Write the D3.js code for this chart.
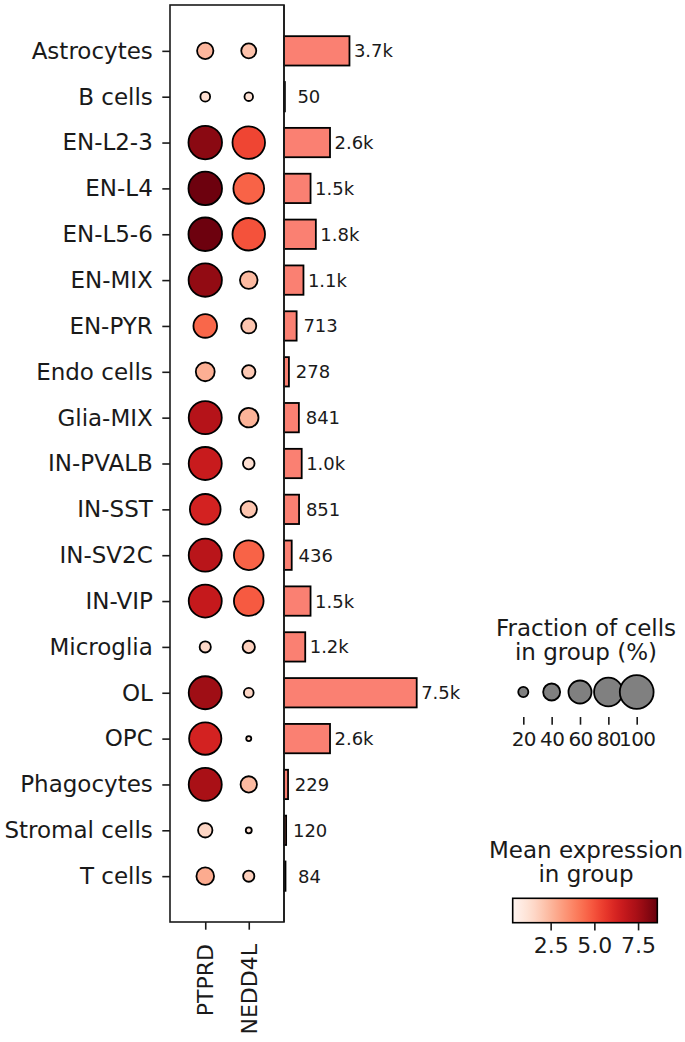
<!DOCTYPE html>
<html>
<head>
<meta charset="utf-8">
<script src="https://cdn.jsdelivr.net/npm/d3@7"></script>
<style>
  body { margin: 0; background: #fff; }
  svg text { font-family: "DejaVu Sans", sans-serif; fill: #1a1a1a; }
</style>
</head>
<body>
<div id="chart"></div>
<script>
// cell types (rows) and genes (columns)
var categories = ["Astrocytes", "B cells", "EN-L2-3", "EN-L4", "EN-L5-6", "EN-MIX", "EN-PYR",
    "Endo cells", "Glia-MIX", "IN-PVALB", "IN-SST", "IN-SV2C", "IN-VIP", "Microglia",
    "OL", "OPC", "Phagocytes", "Stromal cells", "T cells"];
var genes = ["PTPRD", "NEDD4L"];

// fraction of cells expressing (%)
var fracPTPRD  = [38, 19, 99, 99, 99, 98, 62, 46, 97, 97, 88, 97, 97, 23, 97, 94, 97, 32, 42];
var fracNEDD4L = [34, 16, 95, 88, 95, 42, 34, 29, 48, 24, 38, 84, 84, 26, 19, 8, 38, 10, 23];

// mean expression in group
var meanPTPRD  = [2.5, 1.3, 8.0, 8.5, 8.5, 7.85, 4.5, 2.7, 7.1, 6.6, 6.3, 7.0, 6.7, 1.5, 7.6, 6.3, 7.4, 1.6, 2.8];
var meanNEDD4L = [2.2, 1.2, 5.3, 4.6, 5.0, 2.4, 2.1, 2.0, 2.6, 1.3, 2.1, 4.6, 4.8, 1.8, 1.6, 1.2, 2.4, 1.2, 1.8];

// number of cells per group
var cellCounts = [3700, 50, 2600, 1500, 1800, 1100, 713, 278, 841, 1000, 851, 436, 1500, 1200, 7500, 2600, 229, 120, 84];

// legend ticks
var sizeTicks = [20, 40, 60, 80, 100];
var colorTicks = [2.5, 5.0, 7.5];

var width = 685, height = 1042;

var svg = d3.select("#chart").append("svg")
    .attr("width", width)
    .attr("height", height);

// main dot plot area
var plotLeft = 170, plotRight = 284, plotTop = 5, plotBottom = 922;

var yScale = d3.scalePoint()
    .domain(categories)
    .range([plotTop, plotBottom])
    .padding(1);

var xScale = d3.scalePoint()
    .domain(genes)
    .range([plotLeft, plotRight])
    .padding(0.81);

var sizeScale = d3.scalePow().exponent(0.75)
    .domain([0, 100])
    .range([0, 16.9]);

var colorScale = d3.scaleSequential(d3.interpolateReds)
    .domain([0.33, 8.6]);

var dots = [];
categories.forEach(function(c, i) {
    dots.push({cat: c, gene: "PTPRD", frac: fracPTPRD[i], mean: meanPTPRD[i]});
    dots.push({cat: c, gene: "NEDD4L", frac: fracNEDD4L[i], mean: meanNEDD4L[i]});
});

svg.append("g").selectAll("circle")
    .data(dots)
    .enter().append("circle")
    .attr("cx", function(d) { return xScale(d.gene); })
    .attr("cy", function(d) { return yScale(d.cat); })
    .attr("r", function(d) { return sizeScale(d.frac); })
    .style("fill", function(d) { return colorScale(d.mean); })
    .style("stroke", "#000")
    .style("stroke-width", 1.8);

// frame
svg.append("rect")
    .attr("x", plotLeft)
    .attr("y", plotTop)
    .attr("width", plotRight - plotLeft)
    .attr("height", plotBottom - plotTop)
    .style("fill", "none")
    .style("stroke", "#1a1a1a")
    .style("stroke-width", 1.6);

// y axis
var yAxis = d3.axisLeft(yScale).tickSize(7.7).tickPadding(9.5);
var yg = svg.append("g")
    .attr("transform", "translate(" + plotLeft + ",0)")
    .call(yAxis);
yg.select(".domain").remove();
yg.selectAll("line").style("stroke", "#1a1a1a").style("stroke-width", 1.6);
yg.selectAll("text").style("font-size", "23px").attr("fill", "#1a1a1a");

// x axis (gene names rotated)
var xAxis = d3.axisBottom(xScale).tickSize(7.7).tickPadding(9);
var xg = svg.append("g")
    .attr("transform", "translate(0," + plotBottom + ")")
    .call(xAxis);
xg.select(".domain").remove();
xg.selectAll("line").style("stroke", "#1a1a1a").style("stroke-width", 1.6);
xg.selectAll("text")
    .style("font-size", "22px")
    .attr("fill", "#1a1a1a")
    .attr("text-anchor", "end")
    .attr("dy", null)
    .attr("dominant-baseline", "central")
    .attr("transform", "translate(0,22) rotate(-90)")
    .attr("y", 0)
    .attr("x", 0);

// totals bar chart
var barScale = d3.scaleLinear()
    .domain([0, 7500])
    .range([plotRight, plotRight + 132.7]);
var barH = yScale.step() * 0.64;

svg.append("g").selectAll("rect")
    .data(cellCounts)
    .enter().append("rect")
    .attr("x", barScale(0))
    .attr("y", function(d, i) { return yScale(categories[i]) - barH / 2; })
    .attr("width", function(d) { return barScale(d) - barScale(0); })
    .attr("height", barH)
    .style("fill", "salmon")
    .style("stroke", "#000")
    .style("stroke-width", 1.8);

svg.append("g").selectAll("text")
    .data(cellCounts)
    .enter().append("text")
    .attr("x", function(d) { return barScale(d) + 24; })
    .attr("y", function(d, i) { return yScale(categories[i]); })
    .attr("text-anchor", "middle")
    .attr("dominant-baseline", "central")
    .style("font-size", "18px")
    .text(function(d) { return d >= 1000 ? (d / 1000).toFixed(1) + "k" : d; });

// bar axis spine
svg.append("line")
    .attr("x1", plotRight).attr("x2", plotRight)
    .attr("y1", plotTop).attr("y2", plotBottom)
    .style("stroke", "#1a1a1a")
    .style("stroke-width", 1.6);

// size legend
var legCx = 586;
var sizeTitle = svg.append("text")
    .attr("x", legCx)
    .attr("text-anchor", "middle")
    .style("font-size", "23px");
sizeTitle.append("tspan").attr("x", legCx).attr("y", 636).text("Fraction of cells");
sizeTitle.append("tspan").attr("x", legCx).attr("y", 660).text("in group (%)");

var sizeX = d3.scalePoint()
    .domain(sizeTicks)
    .range([523.3, 636.7]);

svg.append("g").selectAll("circle")
    .data(sizeTicks)
    .enter().append("circle")
    .attr("cx", function(d) { return sizeX(d); })
    .attr("cy", 692)
    .attr("r", function(d) { return sizeScale(d); })
    .style("fill", "gray")
    .style("stroke", "#000")
    .style("stroke-width", 1.8);

var sizeAxis = d3.axisBottom(sizeX).tickSize(7.7).tickPadding(7);
var sg = svg.append("g")
    .attr("transform", "translate(0,717)")
    .call(sizeAxis);
sg.select(".domain").remove();
sg.selectAll("line").style("stroke", "#1a1a1a").style("stroke-width", 1.6);
sg.selectAll("text")
    .style("font-size", "20px")
    .style("letter-spacing", "-0.6px")
    .attr("fill", "#1a1a1a");

// colour legend
var colTitle = svg.append("text")
    .attr("x", legCx)
    .attr("text-anchor", "middle")
    .style("font-size", "23px");
colTitle.append("tspan").attr("x", legCx).attr("y", 858).text("Mean expression");
colTitle.append("tspan").attr("x", legCx).attr("y", 882).text("in group");

var cbScale = d3.scaleLinear()
    .domain(colorScale.domain())
    .range([512.7, 657.3]);
var cbTop = 898.3, cbH = 24.4;

var grad = svg.append("defs").append("linearGradient")
    .attr("id", "redsGrad")
    .attr("x1", "0%").attr("x2", "100%")
    .attr("y1", "0%").attr("y2", "0%");
d3.range(0, 1.0001, 0.05).forEach(function(t) {
    grad.append("stop")
        .attr("offset", (t * 100) + "%")
        .attr("stop-color", d3.interpolateReds(t));
});

svg.append("rect")
    .attr("x", cbScale.range()[0])
    .attr("y", cbTop)
    .attr("width", cbScale.range()[1] - cbScale.range()[0])
    .attr("height", cbH)
    .style("fill", "url(#redsGrad)")
    .style("stroke", "#000")
    .style("stroke-width", 1.6);

var cbAxis = d3.axisBottom(cbScale)
    .tickValues(colorTicks)
    .tickFormat(d3.format(".1f"))
    .tickSize(7.7)
    .tickPadding(7);
var cg = svg.append("g")
    .attr("transform", "translate(0," + (cbTop + cbH) + ")")
    .call(cbAxis);
cg.select(".domain").remove();
cg.selectAll("line").style("stroke", "#1a1a1a").style("stroke-width", 1.6);
cg.selectAll("text").style("font-size", "22px").attr("fill", "#1a1a1a");
</script>
</body>
</html>
